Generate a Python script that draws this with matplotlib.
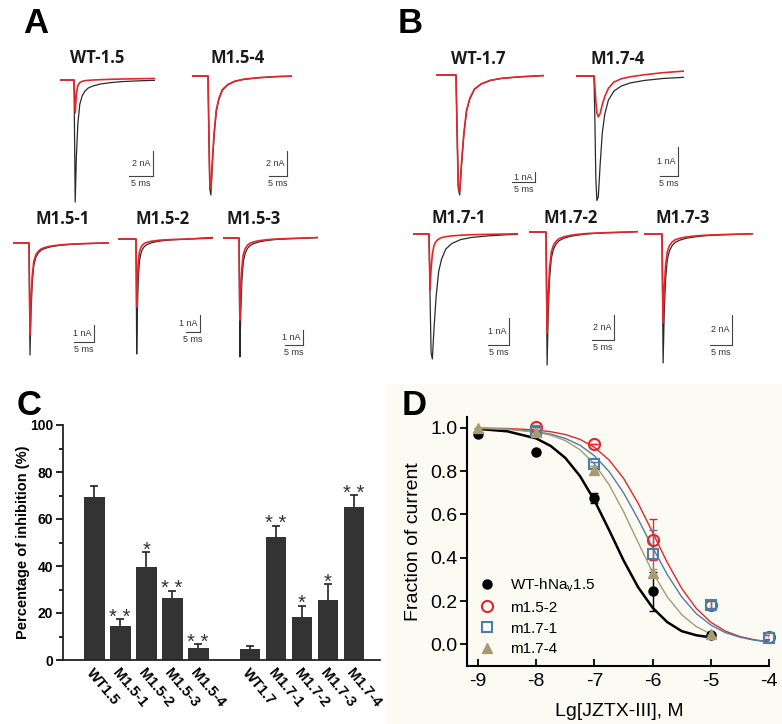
import matplotlib
matplotlib.use('Agg')
import matplotlib.pyplot as plt
from matplotlib.patches import Rectangle
import numpy as np

plt.rcParams['font.family'] = ['Liberation Sans', 'DejaVu Sans']
plt.rcParams['axes.unicode_minus'] = False

W, H = 782, 724

# ---------------- A / B : current traces ----------------
cell_names = ['WT-1.5', 'M1.5-4', 'M1.5-1', 'M1.5-2', 'M1.5-3',
              'WT-1.7', 'M1.7-4', 'M1.7-1', 'M1.7-2', 'M1.7-3']
peak_ctrl = [9.76, 9.52, 6.59, 6.76, 7.93, 12.0, 4.38, 4.63, 10.64, 8.6]    # nA
peak_toxin = [2.64, 9.04, 5.41, 4.0, 5.47, 11.7, 1.41, 2.07, 8.08, 5.93]    # nA
bar_na = [2, 2, 1, 1, 1, 1, 1, 1, 2, 2]
shape_ctrl = ['fast', 'mid', 'fast', 'fast', 'fast', 'mid', 'slow', 'mid', 'fast', 'fast']
shape_toxin = ['xfast', 'mid', 'fast', 'fast', 'fast', 'mid', 'broad', 'fast', 'fast', 'fast']

# normalised current waveforms (time in ms from the step)
t_ms = [-8, 0, 0.25, 0.5, 0.8, 1.2, 1.7, 2.3, 3.0, 4.0, 5.5, 7.5, 10, 14, 19, 25, 32]
shapes = {
    'xfast': [0, 0, 1.0, 0.42, 0.17, 0.08, 0.04, 0.02, 0.01, 0.0, -0.01, -0.02, -0.03, -0.04, -0.05, -0.05, -0.05],
    'fast': [0, 0, 1.0, 0.62, 0.36, 0.2, 0.13, 0.09, 0.065, 0.048, 0.033, 0.022, 0.013, 0.006, 0.0, -0.01, -0.02],
    'mid': [0, 0, 0.5, 0.95, 1.0, 0.75, 0.5, 0.3, 0.2, 0.12, 0.075, 0.045, 0.028, 0.015, 0.005, 0.0, -0.005],
    'slow': [0, 0, 0.35, 0.8, 0.98, 0.95, 0.7, 0.45, 0.3, 0.19, 0.12, 0.08, 0.055, 0.035, 0.02, 0.01, 0.0],
    'broad': [0, 0, 0.25, 0.6, 0.9, 1.0, 0.92, 0.7, 0.5, 0.3, 0.15, 0.07, 0.02, -0.03, -0.08, -0.12, -0.12],
}

# layout of each trace (figure pixels): start, step, end, baseline, bar x, bar y, px/ms, px/nA, title x, title baseline
cell_layout = [
    (60, 74, 155, 80, 153, 176, 4.8, 12.5, 97, 63),
    (192, 208, 292, 76, 287, 176, 3.6, 12.5, 238, 63),
    (13, 29, 109, 243, 94, 342, 4.0, 17, 63, 224),
    (118, 136, 213, 239, 200, 332, 2.8, 17, 163, 224),
    (223, 239, 318, 238, 303, 345, 3.6, 15, 254, 224),
    (436, 456, 544, 75, 535, 182, 4.6, 10, 478, 64),
    (576, 594, 684, 76, 678, 176, 3.6, 29, 618, 64),
    (413, 429, 518, 234, 509, 345, 4.2, 27, 459, 223),
    (529, 546, 638, 232, 614, 340, 4.4, 12.5, 571, 223),
    (644, 662, 753, 234, 732, 345, 4.4, 15, 683, 223),
]

# ---------------- C : bar chart ----------------
bar_labels = ['WT1.5', 'M1.5-1', 'M1.5-2', 'M1.5-3', 'M1.5-4',
              'WT1.7', 'M1.7-1', 'M1.7-2', 'M1.7-3', 'M1.7-4']
bar_pos = [0, 1, 2, 3, 4, 6, 7, 8, 9, 10]
inhib = [69.2, 14.6, 39.7, 26.5, 5.0, 4.8, 52.2, 18.3, 25.5, 65.0]
inhib_err = [4.8, 2.8, 6.3, 3.0, 1.7, 1.3, 5.0, 4.8, 6.8, 5.2]
stars = ['', '* *', '*', '* *', '* *', '', '* *', '*', '*', '* *']

# ---------------- D : dose response ----------------
wt_x = [-9, -8, -7, -6, -5]
wt_y = [0.97, 0.89, 0.678, 0.245, 0.041]
wt_err = [0, 0, 0.023, 0.09, 0]
m152_x = [-8, -7, -6, -5, -4]
m152_y = [1.005, 0.923, 0.483, 0.184, 0.035]
m152_err = [0, 0, 0.095, 0.02, 0.01]
m171_x = [-8, -7, -6, -5, -4]
m171_y = [0.986, 0.833, 0.419, 0.184, 0.031]
m171_err = [0, 0.01, 0.11, 0.015, 0.01]
m174_x = [-9, -8, -7, -6, -5]
m174_y = [1.0, 0.98, 0.805, 0.33, 0.046]
m174_err = [0, 0, 0.02, 0.02, 0]

fit_x = [-9, -8.5, -8, -7.75, -7.5, -7.25, -7, -6.75, -6.5, -6.25, -6,
         -5.75, -5.5, -5.25, -5, -4.75, -4.5, -4.25, -4]
wt_fit = [0.995, 0.984, 0.951, 0.916, 0.861, 0.778, 0.665, 0.529, 0.388, 0.264, 0.169,
          0.103, 0.061, 0.042, 0.032]
m152_fit = [0.999, 0.997, 0.990, 0.982, 0.969, 0.947, 0.910, 0.852, 0.767, 0.652, 0.517,
            0.379, 0.258, 0.166, 0.102, 0.061, 0.036, 0.021, 0.012]
m171_fit = [0.998, 0.994, 0.982, 0.971, 0.951, 0.920, 0.871, 0.799, 0.700, 0.579, 0.447,
            0.323, 0.219, 0.142, 0.089, 0.054, 0.033, 0.019, 0.012]
m174_fit = [0.998, 0.994, 0.980, 0.966, 0.941, 0.899, 0.833, 0.738, 0.613, 0.471, 0.333,
            0.220, 0.137, 0.082, 0.048]

RED = '#e3262c'
BLUE = '#4d7ea8'
KHAKI = '#a59c74'

fig = plt.figure(figsize=(W / 100, H / 100), dpi=100)


def px_axes(x0, y0, x1, y1):
    return fig.add_axes([x0 / W, 1 - y1 / H, (x1 - x0) / W, (y1 - y0) / H])


def px_text(x, y, s, **kw):
    fig.text(x / W, 1 - y / H, s, **kw)


# cream background behind panel D
fig.patches.append(Rectangle((386 / W, 0), 1 - 386 / W, 1 - 384 / H,
                             transform=fig.transFigure, facecolor='#fbfbf3',
                             edgecolor='none', zorder=-10))

# panel letters
for letter, lx, ly in [('A', 23, 33), ('B', 398, 33), ('C', 17, 415), ('D', 402, 415)]:
    px_text(lx, ly, letter, fontsize=25, fontweight='bold', ha='left', va='baseline')

# traces
for i, name in enumerate(cell_names):
    start, step, end, base, bx, by, px_ms, px_na, tx, ty = cell_layout[i]
    top = base - 10
    bottom = max(base + peak_ctrl[i] * px_na, by) + 8
    ax = px_axes(start, top, end, bottom)
    ax.set_xlim((start - step) / px_ms, (end - step) / px_ms)
    ax.set_ylim(-(bottom - base) / px_na, (base - top) / px_na)
    ax.axis('off')
    ctrl = -np.array(shapes[shape_ctrl[i]]) * peak_ctrl[i]
    tox = -np.array(shapes[shape_toxin[i]]) * peak_toxin[i]
    ax.plot(t_ms, ctrl, color='#2a2a2a', lw=0.9)
    ax.plot(t_ms, tox, color=RED, lw=1.2)
    # scale bar
    xb = (bx - step) / px_ms
    yb = -(by - base) / px_na
    ax.plot([xb, xb], [yb, yb + bar_na[i]], color='#444444', lw=0.8, clip_on=False)
    ax.plot([xb - 5, xb], [yb, yb], color='#444444', lw=0.8, clip_on=False)
    ax.annotate('%d nA' % bar_na[i], (xb, yb + bar_na[i] / 2), xytext=(-2, 0),
                textcoords='offset points', ha='right', va='center', fontsize=6.5,
                family=['Liberation Sans Narrow', 'Liberation Sans'], color='#333333')
    ax.annotate('5 ms', (xb - 2.5, yb), xytext=(0, -2.5),
                textcoords='offset points', ha='center', va='top', fontsize=6.5,
                family=['Liberation Sans Narrow', 'Liberation Sans'], color='#333333')
    px_text(tx, ty, name, fontsize=12, fontweight='bold', ha='center', va='baseline',
            family=['Open Sans', 'DejaVu Sans'], color='#1a1a1a')

# ---------------- panel C ----------------
axc = px_axes(63, 425, 380, 660)
axc.bar(bar_pos, inhib, width=0.8, color='#333333', zorder=2)
eb = axc.errorbar(bar_pos, inhib, yerr=[np.zeros(len(inhib)), inhib_err], fmt='none',
                  ecolor='#222222', elinewidth=1.2, capsize=3, capthick=1.2, zorder=3)
eb.lines[1][0].set_visible(False)
for p, v, e, s in zip(bar_pos, inhib, inhib_err, stars):
    if s:
        axc.annotate(s, (p, v + e), xytext=(0, -2.5), textcoords='offset points',
                     ha='center', va='baseline', fontsize=14.5, color='#333333')
axc.set_xlim(-1.2, 11)
axc.set_ylim(0, 100)
axc.set_yticks([0, 20, 40, 60, 80, 100])
axc.set_yticks([10, 30, 50, 70, 90], minor=True)
axc.set_xticks(bar_pos)
axc.set_xticklabels(bar_labels, rotation=-50, ha='left', va='top',
                    rotation_mode='anchor', fontsize=10.5, fontweight='bold')
axc.tick_params(axis='x', length=0, pad=4)
axc.tick_params(axis='y', which='major', length=5, width=1.2, labelsize=10, pad=2)
axc.tick_params(axis='y', which='minor', length=3, width=1.2)
for lab in axc.get_yticklabels():
    lab.set_fontweight('bold')
for sp in ['top', 'right']:
    axc.spines[sp].set_visible(False)
for sp in ['left', 'bottom']:
    axc.spines[sp].set_linewidth(1.3)
    axc.spines[sp].set_color('#222222')
axc.set_ylabel('Percentage of inhibition (%)', fontsize=10.5, fontweight='bold')
axc.yaxis.set_label_coords(-0.105, 0.5)

# ---------------- panel D ----------------
axd = px_axes(467, 417, 769, 666)
axd.set_facecolor('none')
axd.plot(fit_x[:len(wt_fit)], wt_fit, color='black', lw=1.8, zorder=2)
axd.plot(fit_x, m152_fit, color=RED, lw=1.0, zorder=2)
axd.plot(fit_x, m171_fit, color=BLUE, lw=1.0, zorder=2)
axd.plot(fit_x[:len(m174_fit)], m174_fit, color=KHAKI, lw=1.0, zorder=2)

axd.errorbar(wt_x, wt_y, yerr=wt_err, fmt='none', ecolor='black', elinewidth=1.0,
             capsize=3, zorder=3)
axd.errorbar(m152_x, m152_y, yerr=m152_err, fmt='none', ecolor=RED, elinewidth=1.0,
             capsize=3, zorder=3)
axd.errorbar(m171_x, m171_y, yerr=m171_err, fmt='none', ecolor=BLUE, elinewidth=1.0,
             capsize=3, zorder=3)
axd.errorbar(m174_x, m174_y, yerr=m174_err, fmt='none', ecolor=KHAKI, elinewidth=1.0,
             capsize=3, zorder=3)

axd.plot(wt_x, wt_y, 'o', color='black', ms=6.5, clip_on=False, zorder=4,
         label='WT-hNa$_\\mathregular{v}$1.5')
axd.plot(m152_x, m152_y, 'o', mfc='none', mec=RED, mew=1.5, ms=8, clip_on=False,
         zorder=4, label='m1.5-2')
axd.plot(m171_x, m171_y, 's', mfc='none', mec=BLUE, mew=1.5, ms=7.5, clip_on=False,
         zorder=4, label='m1.7-1')
axd.plot(m174_x, m174_y, '^', color=KHAKI, ms=7, clip_on=False, zorder=4,
         label='m1.7-4')

axd.set_xlim(-9.19, -4)
axd.set_ylim(-0.1, 1.05)
axd.set_xticks([-9, -8, -7, -6, -5, -4])
axd.set_yticks([0.0, 0.2, 0.4, 0.6, 0.8, 1.0])
axd.set_yticklabels(['%.1f' % v for v in [0.0, 0.2, 0.4, 0.6, 0.8, 1.0]])
axd.tick_params(axis='y', direction='out', length=5, width=1.3, labelsize=14, pad=2)
axd.tick_params(axis='x', direction='in', length=5, width=1.3, labelsize=14, pad=5)
for sp in ['top', 'right']:
    axd.spines[sp].set_visible(False)
for sp in ['left', 'bottom']:
    axd.spines[sp].set_linewidth(1.5)
axd.set_xlabel('Lg[JZTX-III], M', fontsize=14)
axd.set_ylabel('Fraction of current', fontsize=14)
axd.xaxis.set_label_coords(0.503, -0.15)
axd.yaxis.set_label_coords(-0.15, 0.5)
axd.legend(loc='lower left', bbox_to_anchor=(0.02, 0.014), frameon=False, fontsize=11,
           handlelength=1.0, handletextpad=1.0, labelspacing=0.45, borderaxespad=0)

fig.savefig('out.png', dpi=100)
